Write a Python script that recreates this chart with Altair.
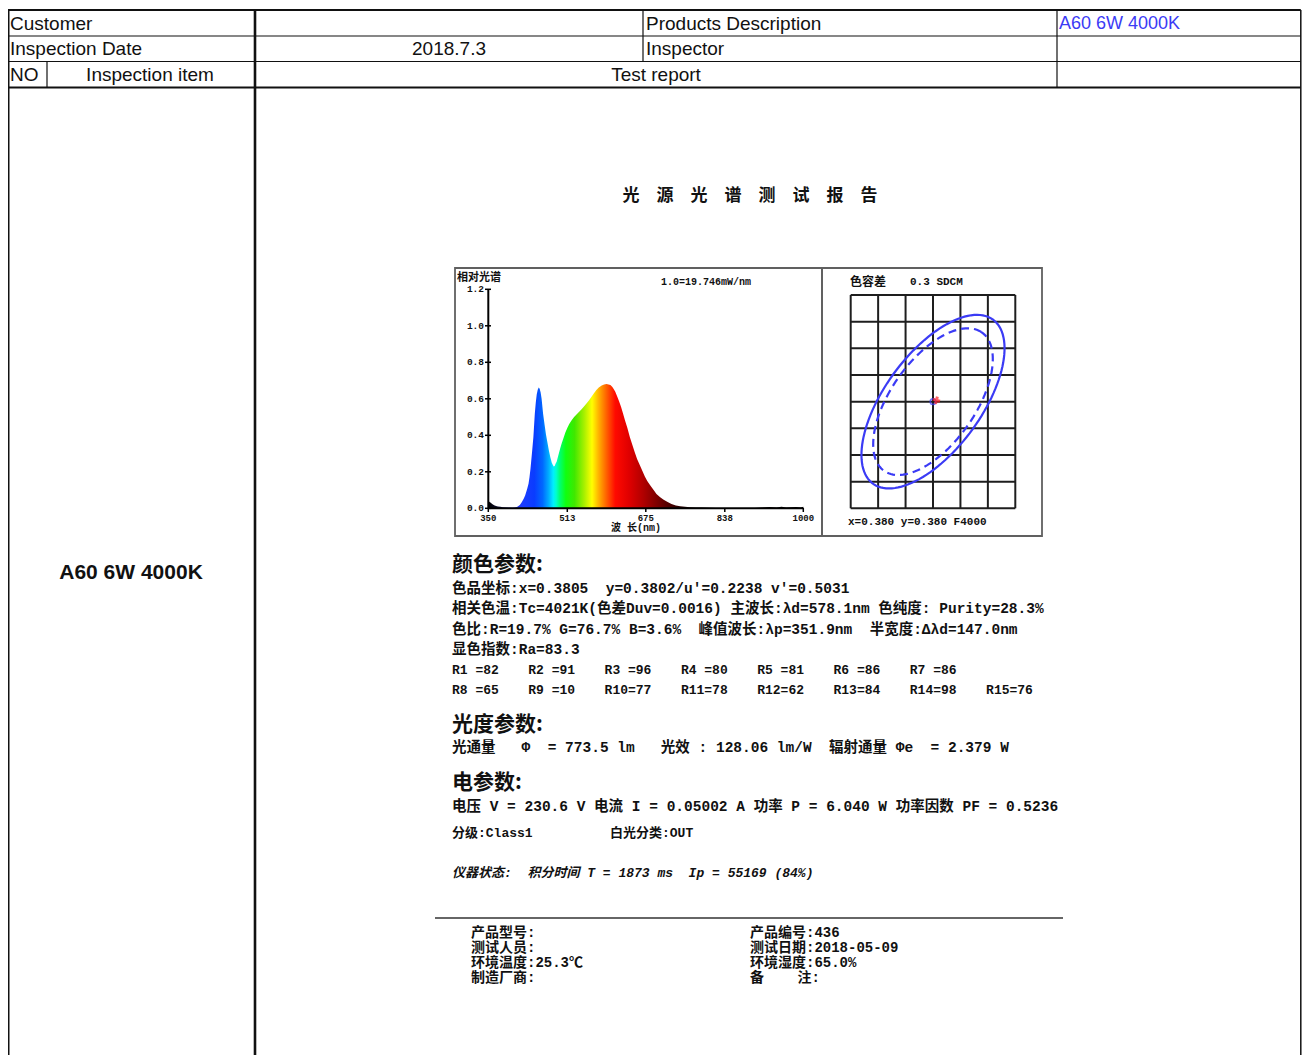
import math
import altair as alt
import pandas as pd

# chart origin sits at page (8, 8)
OX, OY = 8, 8
W, H = 1294, 1047


def px(v):
    return round(v - OX, 2)


def py(v):
    return round(v - OY, 2)


def nb(s):
    # keep runs of spaces in SVG text
    return s.replace(" ", "\u00a0")


# ---------------- data ----------------
WAVELENGTH = [350, 352, 355, 358, 362, 366, 370, 375, 380, 390, 400, 405, 410, 415, 419, 423,
              426, 430, 433, 435, 437, 440, 443, 446, 448, 450, 452, 454, 456, 458, 460, 463,
              466, 469, 472, 475, 478, 481, 483, 485, 487, 489, 491, 494, 498, 501, 505, 509,
              513, 517, 522, 527, 532, 537, 542, 547, 553, 558, 563, 568, 573, 578, 584, 589,
              594, 598, 602, 606, 609, 612, 616, 620, 624, 628, 632, 637, 642, 647, 652, 657,
              663, 668, 673, 678, 684, 690, 697, 704, 711, 720, 728, 737, 746, 756, 766, 778,
              790, 805, 820, 840, 860, 880, 900, 915, 930, 945, 955, 965, 975, 985, 995, 1000]
REL_SPECTRUM = [0.042, 0.036, 0.030, 0.024, 0.017, 0.012, 0.010, 0.008, 0.006, 0.004, 0.003, 0.004,
                0.009, 0.018, 0.033, 0.052, 0.070, 0.105, 0.134, 0.170, 0.215, 0.300, 0.390, 0.520,
                0.580, 0.625, 0.650, 0.662, 0.655, 0.635, 0.600, 0.520, 0.460, 0.405, 0.360, 0.317,
                0.280, 0.250, 0.238, 0.229, 0.232, 0.245, 0.255, 0.285, 0.325, 0.352, 0.384, 0.415,
                0.440, 0.462, 0.483, 0.500, 0.514, 0.528, 0.541, 0.556, 0.575, 0.592, 0.611, 0.630,
                0.648, 0.662, 0.673, 0.679, 0.681, 0.679, 0.675, 0.665, 0.652, 0.638, 0.612, 0.585,
                0.555, 0.520, 0.483, 0.440, 0.391, 0.350, 0.308, 0.270, 0.235, 0.205, 0.174, 0.150,
                0.126, 0.104, 0.079, 0.062, 0.048, 0.034, 0.024, 0.016, 0.011, 0.008, 0.006, 0.005,
                0.004, 0.003, 0.002, 0.002, 0.001, 0.002, 0.002, 0.004, 0.007, 0.005, 0.008, 0.004,
                0.006, 0.007, 0.005, 0.008]
WL_TICKS = [350, 513, 675, 838, 1000]
REL_TICKS = [0.0, 0.2, 0.4, 0.6, 0.8, 1.0, 1.2]

CIE_GRID_X = [0.368, 0.372, 0.376, 0.380, 0.384, 0.388, 0.392]
CIE_GRID_Y = [0.364, 0.368, 0.372, 0.376, 0.380, 0.384, 0.388, 0.392, 0.396]
CIE_CENTER = [0.380, 0.380]
CIE_MEASURED = [0.3805, 0.3802]
ELLIPSE_OUTER = [0.0151, 0.0071, 55.0]   # semi-major, semi-minor, tilt (deg)
ELLIPSE_INNER = [0.0126, 0.0062, 56.0]

CRI_NAMES = ["R1", "R2", "R3", "R4", "R5", "R6", "R7", "R8",
             "R9", "R10", "R11", "R12", "R13", "R14", "R15"]
CRI_VALUES = [82, 91, 96, 80, 81, 86, 86, 65, 10, 77, 78, 62, 84, 98, 76]

PRODUCT = "A60 6W 4000K"
INSPECTION_DATE = "2018.7.3"

REPORT_LINES = [
    "色品坐标:x=0.3805  y=0.3802/u'=0.2238 v'=0.5031",
    "相关色温:Tc=4021K(色差Duv=0.0016) 主波长:λd=578.1nm 色纯度: Purity=28.3%",
    "色比:R=19.7% G=76.7% B=3.6%  峰值波长:λp=351.9nm  半宽度:Δλd=147.0nm",
    "显色指数:Ra=83.3",
]
PHOTO_LINE = "光通量   Φ  = 773.5 lm   光效 : 128.06 lm/W  辐射通量 Φe  = 2.379 W"
ELEC_LINE = "电压 V = 230.6 V 电流 I = 0.05002 A 功率 P = 6.040 W 功率因数 PF = 0.5236"
CLASS_TEXT = "分级:Class1"
WHITE_TEXT = "白光分类:OUT"
STATUS_TEXT = "仪器状态:  积分时间 T = 1873 ms  Ip = 55169 (84%)"
FOOT_LEFT = ["产品型号:", "测试人员:", "环境温度:25.3℃", "制造厂商:"]
FOOT_RIGHT = ["产品编号:436", "测试日期:2018-05-09", "环境湿度:65.0%", "备    注:"]

# ---------------- styles ----------------
SPEC_STOP_WL = [350, 372, 395, 420, 445, 462, 474, 484, 490, 498, 510, 528, 548, 564,
                578, 594, 612, 640, 670, 705, 740, 780, 1000]
SPEC_STOP_COLORS = ["#000000", "#101030", "#2a2ad0", "#1c3cff", "#0a3cff", "#0068ff",
                    "#00aaff", "#00eeff", "#00ffcc", "#00ff70", "#10ff10", "#40e800",
                    "#a8f000", "#ffff00", "#ffb000", "#ff6000", "#ff0a00", "#e00000",
                    "#b00000", "#700000", "#300000", "#080000", "#000000"]
MONO = "Liberation Mono, Noto Sans CJK SC"
CJK = "Noto Sans CJK SC"
SANS = "Liberation Sans"
BLUE = "#3b3bf5"

layers = []

# ---------------- table grid ----------------
RIGHT_EDGE = 1300.8
BOTTOM = 1070
grid_rows = [
    (8, RIGHT_EDGE, 10, 10, 2.2), (8, RIGHT_EDGE, 36, 36, 1.2), (8, RIGHT_EDGE, 61.5, 61.5, 1.2),
    (8, RIGHT_EDGE, 87.5, 87.5, 2.2), (8.75, 8.75, 10, BOTTOM, 1.5), (255, 255, 10, BOTTOM, 2.6),
    (643, 643, 10, 61.5, 1.2), (1057, 1057, 10, 87.5, 1.2), (47, 47, 61.5, 87.5, 1.2),
    (RIGHT_EDGE, RIGHT_EDGE, 10, BOTTOM, 1.5),
]
gdf = pd.DataFrame([dict(x=px(a), x2=px(b), y=py(c), y2=py(d), w=w) for a, b, c, d, w in grid_rows])
layers.append(alt.Chart(gdf).mark_rule(color="#111111").encode(
    x=alt.X("x:Q", scale=None, axis=None), x2="x2:Q",
    y=alt.Y("y:Q", scale=None, axis=None), y2="y2:Q",
    strokeWidth=alt.StrokeWidth("w:Q", scale=None, legend=None)))

# report frames
fdf = pd.DataFrame([
    dict(x=px(455), x2=px(822), y=py(268), y2=py(536)),
    dict(x=px(822), x2=px(1042), y=py(268), y2=py(536)),
])
layers.append(alt.Chart(fdf).mark_rect(fillOpacity=0, stroke="#606060", strokeWidth=1.8).encode(
    x=alt.X("x:Q", scale=None, axis=None), x2="x2:Q",
    y=alt.Y("y:Q", scale=None, axis=None), y2="y2:Q"))
sdf = pd.DataFrame([dict(x=px(435), x2=px(1063), y=py(918))])
layers.append(alt.Chart(sdf).mark_rule(color="#666666", strokeWidth=2).encode(
    x=alt.X("x:Q", scale=None, axis=None), x2="x2:Q",
    y=alt.Y("y:Q", scale=None, axis=None)))

# ---------------- spectrum ----------------
sx = alt.Scale(domain=[350, 1000], range=[px(488.3), px(803.3)], nice=False, zero=False)
sy = alt.Scale(domain=[0, 1.2], range=[py(508.3), py(289.3)], nice=False, zero=False)
spec = pd.DataFrame({"wl": WAVELENGTH, "v": REL_SPECTRUM})
grad = alt.Gradient(
    gradient="linear",
    stops=[alt.GradientStop(color=c, offset=(w - 350) / 650) for w, c in zip(SPEC_STOP_WL, SPEC_STOP_COLORS)],
    x1=0, x2=1, y1=0, y2=0)
layers.append(alt.Chart(spec).mark_area(color=grad, interpolate="linear").encode(
    x=alt.X("wl:Q", scale=sx, axis=None),
    y=alt.Y("v:Q", scale=sy, axis=None),
    y2=alt.datum(0)))
# axis lines
adf = pd.DataFrame([dict(a=350, b=1000, c=0.0, d=0.0), dict(a=350, b=350, c=0.0, d=1.2)])
layers.append(alt.Chart(adf).mark_rule(color="#000000", strokeWidth=2).encode(
    x=alt.X("a:Q", scale=sx, axis=None), x2="b:Q",
    y=alt.Y("c:Q", scale=sy, axis=None), y2="d:Q"))
xt = pd.DataFrame({"wl": WL_TICKS, "lab": [str(t) for t in WL_TICKS]})
layers.append(alt.Chart(xt).mark_rule(color="#000000", strokeWidth=1.5).encode(
    x=alt.X("wl:Q", scale=sx, axis=None), y=alt.value(py(508)), y2=alt.value(py(512))))
layers.append(alt.Chart(xt).mark_text(font=MONO, fontWeight="bold", fontSize=9, align="center",
                                      baseline="middle", color="#111111").encode(
    x=alt.X("wl:Q", scale=sx, axis=None), y=alt.value(py(517.5)), text="lab:N"))
yt = pd.DataFrame({"v": REL_TICKS, "lab": [f"{t:.1f}" for t in REL_TICKS]})
layers.append(alt.Chart(yt).mark_rule(color="#000000", strokeWidth=1.5).encode(
    y=alt.Y("v:Q", scale=sy, axis=None), x=alt.value(px(485)), x2=alt.value(px(491))))
layers.append(alt.Chart(yt).mark_text(font=MONO, fontWeight="bold", fontSize=9.5, align="right",
                                      baseline="middle", color="#111111").encode(
    y=alt.Y("v:Q", scale=sy, axis=None), x=alt.value(px(484)), text="lab:N"))

# ---------------- chromaticity tolerance panel ----------------
ex = alt.Scale(domain=[CIE_GRID_X[0], CIE_GRID_X[-1]], range=[px(850.7), px(1015.3)], nice=False, zero=False)
ey = alt.Scale(domain=[CIE_GRID_Y[0], CIE_GRID_Y[-1]], range=[py(508.3), py(295)], nice=False, zero=False)
vg = pd.DataFrame({"a": CIE_GRID_X, "c": CIE_GRID_Y[0], "d": CIE_GRID_Y[-1]})
hg = pd.DataFrame({"c": CIE_GRID_Y, "a": CIE_GRID_X[0], "b": CIE_GRID_X[-1]})
layers.append(alt.Chart(vg).mark_rule(color="#1e1e1e", strokeWidth=2).encode(
    x=alt.X("a:Q", scale=ex, axis=None), y=alt.Y("c:Q", scale=ey, axis=None), y2="d:Q"))
layers.append(alt.Chart(hg).mark_rule(color="#1e1e1e", strokeWidth=2).encode(
    x=alt.X("a:Q", scale=ex, axis=None), x2="b:Q", y=alt.Y("c:Q", scale=ey, axis=None)))


def ellipse_frame(params, n=120):
    a, b, deg = params
    th = math.radians(deg)
    rows = []
    for i in range(n + 1):
        t = 2 * math.pi * i / n
        rows.append(dict(
            i=i,
            x=CIE_CENTER[0] + a * math.cos(t) * math.cos(th) - b * math.sin(t) * math.sin(th),
            y=CIE_CENTER[1] + a * math.cos(t) * math.sin(th) + b * math.sin(t) * math.cos(th)))
    return pd.DataFrame(rows)


layers.append(alt.Chart(ellipse_frame(ELLIPSE_OUTER)).mark_line(color=BLUE, strokeWidth=2.2).encode(
    x=alt.X("x:Q", scale=ex, axis=None), y=alt.Y("y:Q", scale=ey, axis=None), order="i:Q"))
layers.append(alt.Chart(ellipse_frame(ELLIPSE_INNER)).mark_line(
    color=BLUE, strokeWidth=2.2, strokeDash=[8, 5]).encode(
    x=alt.X("x:Q", scale=ex, axis=None), y=alt.Y("y:Q", scale=ey, axis=None), order="i:Q"))
cdf = pd.DataFrame([dict(x=CIE_CENTER[0], y=CIE_CENTER[1])])
mdf = pd.DataFrame([dict(x=CIE_MEASURED[0], y=CIE_MEASURED[1])])
layers.append(alt.Chart(cdf).mark_point(shape="circle", filled=False, color=BLUE, size=30, strokeWidth=1.6).encode(
    x=alt.X("x:Q", scale=ex, axis=None), y=alt.Y("y:Q", scale=ey, axis=None)))
layers.append(alt.Chart(mdf).mark_point(shape="cross", filled=True, color="#ff2020", size=55, angle=15).encode(
    x=alt.X("x:Q", scale=ex, axis=None), y=alt.Y("y:Q", scale=ey, axis=None)))

# ---------------- texts ----------------
texts = []


def T(group, text, x, y, size):
    texts.append(dict(g=group, text=nb(text), x=px(x), y=py(y), size=size))


T("sans_l", "Customer", 10, 23.5, 19)
T("sans_l", "Inspection Date", 10, 49, 19)
T("sans_l", "NO", 10, 74.5, 19)
T("sans_l", "Products Description", 646, 23.5, 19)
T("sans_l", "Inspector", 646, 49, 19)
T("sans_c", INSPECTION_DATE, 449, 49, 19)
T("sans_c", "Inspection item", 150, 74.5, 19)
T("sans_c", "Test report", 656, 74.5, 19)
T("sans_blue", PRODUCT, 1059, 23.5, 18)
T("sans_bold_c", PRODUCT, 131, 573, 21)

T("cjk_title", "光　源　光　谱　测　试　报　告", 750, 196, 17)
T("cjk_head", "颜色参数:", 452, 565, 21)
T("cjk_head", "光度参数:", 452, 725, 21)
T("cjk_head", "电参数:", 452, 783, 21)

for k, line in enumerate(REPORT_LINES):
    T("mono_l", line, 452, [589, 609, 630, 650][k], 14.5)
for i, (n, v) in enumerate(zip(CRI_NAMES, CRI_VALUES)):
    row, col = (0, i) if i < 7 else (1, i - 7)
    T("mono_l", f"{n:<3}={v}", 452 + col * 76.3, 670 + row * 20, 13)
T("mono_l", PHOTO_LINE, 452, 748, 14.5)
T("mono_l", ELEC_LINE, 452, 807, 14.5)
T("mono_l", CLASS_TEXT, 452, 833, 13)
T("mono_l", WHITE_TEXT, 610, 833, 13)
T("mono_i", STATUS_TEXT, 452, 873, 13)
for k, (a, b) in enumerate(zip(FOOT_LEFT, FOOT_RIGHT)):
    T("mono_l", a, 471, 933 + 15 * k, 14)
    T("mono_l", b, 750, 933 + 15 * k, 14)

T("mono_l", "相对光谱", 457, 278, 11)
T("mono_c", "1.0=19.746mW/nm", 706, 282, 10)
T("mono_c", "波 长(nm)", 636, 528, 10)
T("mono_l", "色容差", 850, 282, 12)
T("mono_l", "0.3 SDCM", 910, 282, 11)
T("mono_l", "x=0.380 y=0.380 F4000", 848, 522, 11)

tdf = pd.DataFrame(texts)
STYLES = {
    "sans_l": dict(font=SANS, align="left", fontWeight="normal", color="#111111"),
    "sans_c": dict(font=SANS, align="center", fontWeight="normal", color="#111111"),
    "sans_blue": dict(font=SANS, align="left", fontWeight="normal", color=BLUE),
    "sans_bold_c": dict(font=SANS, align="center", fontWeight="bold", color="#111111"),
    "cjk_title": dict(font=CJK, align="center", fontWeight="bold", color="#111111"),
    "cjk_head": dict(font=CJK, align="left", fontWeight="bold", color="#111111"),
    "mono_l": dict(font=MONO, align="left", fontWeight="bold", color="#111111"),
    "mono_c": dict(font=MONO, align="center", fontWeight="bold", color="#111111"),
    "mono_i": dict(font=MONO, align="left", fontWeight="bold", fontStyle="italic", color="#111111"),
}
for g, st in STYLES.items():
    d = tdf[tdf.g == g]
    layers.append(alt.Chart(d).mark_text(baseline="middle", **st).encode(
        x=alt.X("x:Q", scale=None, axis=None),
        y=alt.Y("y:Q", scale=None, axis=None),
        text="text:N",
        size=alt.Size("size:Q", scale=None, legend=None)))

chart = alt.layer(*layers).resolve_scale(
    x="independent", y="independent", size="independent", strokeWidth="independent"
).properties(
    width=W, height=H, padding=0, autosize=alt.AutoSizeParams(type="none"), background="white"
).configure_view(stroke=None)

chart.save("out.html", embed_options={"renderer": "svg", "actions": False})
